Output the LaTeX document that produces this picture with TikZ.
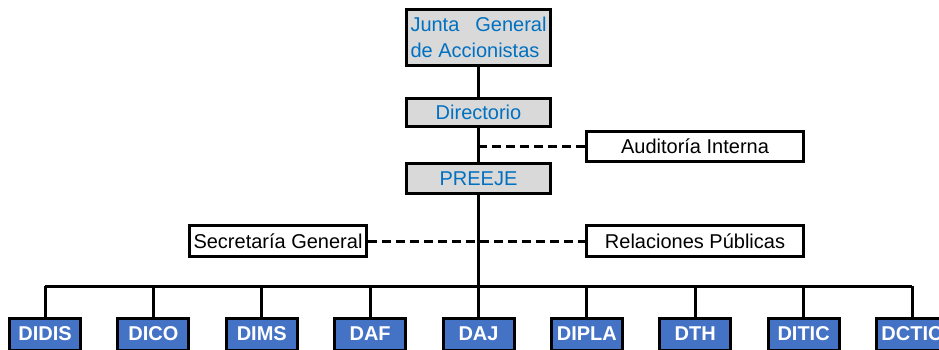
\documentclass[tikz,border=0pt]{standalone}
\usepackage{fontspec}
\setmainfont{Liberation Sans}
\usetikzlibrary{positioning}
\definecolor{boxgray}{HTML}{D9D9D9}
\definecolor{titleblue}{HTML}{0070C0}
\definecolor{unitblue}{HTML}{4472C4}

\begin{document}
\begin{tikzpicture}[x=1pt,y=-1pt,line width=3pt,
    head/.style={draw,fill=boxgray,text=titleblue,minimum width=144pt,inner sep=0pt,font=\fontsize{20}{26}\selectfont},
    staff/.style={draw,fill=white,minimum width=#1,minimum height=30pt,inner sep=0pt,font=\fontsize{20}{24}\selectfont},
    unit/.style={draw,fill=unitblue,text=white,minimum width=71pt,minimum height=32pt,inner sep=0pt,font=\fontsize{20}{24}\selectfont\bfseries},
    link/.style={dash pattern=on 9pt off 5pt}]
  \useasboundingbox (0,0) rectangle (939,349);
  % top of the chart
  \node[head,minimum height=56pt,text width=136pt,align=justify] (junta) at (478.5,37.5) {Junta General de Accionistas};
  \node[head,minimum height=28pt] (dir) at (478.5,112.5) {Directorio};
  \node[head,minimum height=30pt] (preeje) at (478.5,178.5) {PREEJE};
  \node[staff=217pt] (audit) at (695,146) {Auditoría Interna};
  \node[staff=177pt,minimum height=31pt] (secr) at (278,241) {Secretaría General};
  \node[staff=217pt,minimum height=31pt] (relpub) at (695,241) {Relaciones Públicas};
  % directions
  \foreach \name [count=\i] in {DIDIS,DICO,DIMS,DAF,DAJ,DIPLA,DTH,DITIC,DCTIC}
    \node[unit] (u\i) at ({45+108.375*(\i-1)},334) {\name};
  \coordinate (hub) at (478.5,286);
  \begin{scope}
    \draw (junta) -- (dir);
    \draw (dir) -- (preeje);
    \draw (preeje) -- (hub);
    \draw (u1.north |- hub) -- (u9.north |- hub);
    \foreach \i in {1,...,9}
      \draw (u\i.north) -- (u\i.north |- hub);
    \draw[link] (audit.west) -- (audit.west -| preeje);
    \draw[link] (secr) -- (relpub);
  \end{scope}
\end{tikzpicture}
\end{document}
